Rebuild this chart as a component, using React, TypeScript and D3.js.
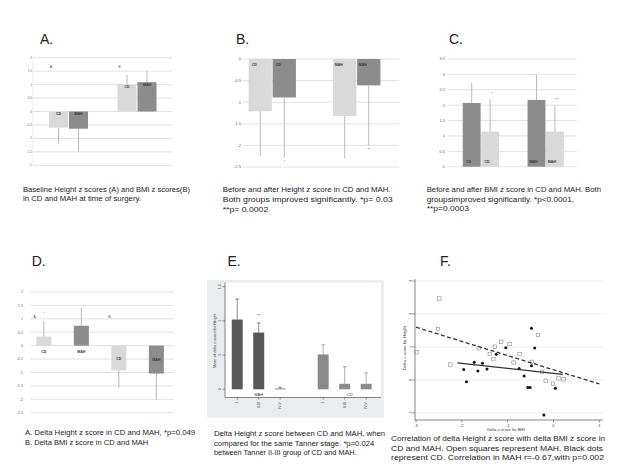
import React from "react";
import * as d3 from "d3";

// ---------- Panel A: baseline z scores ----------
const aGroups = ["Height", "BMI"];
const aSeries = ["CD", "MAH"];
const aMeansCD = [-0.6, 1.0];
const aMeansMAH = [-0.64, 1.09];
const aErrCD = [0.57, 0.36];
const aErrMAH = [0.85, 0.41];
const aTicks = [2, 1.5, 1, 0.5, 0, -0.5, -1, -1.5, -2];
const aGroupMarks = ["A", "B"];

// ---------- Panel B: height z before/after ----------
const bGroups = ["CD", "MAH"];
const bPhases = ["Before", "After"];
const bBefore = [-1.21, -1.32];
const bAfter = [-0.89, -0.61];
const bErrBefore = [1.03, 0.99];
const bErrAfter = [1.39, 1.39];
const bStarsAfter = ["*", "**"];
const bTicks = [0, -0.5, -1, -1.5, -2, -2.5];

// ---------- Panel C: BMI z before/after ----------
const cGroups = ["CD", "MAH"];
const cPhases = ["Before", "After"];
const cBefore = [2.07, 2.17];
const cAfter = [1.14, 1.14];
const cErrBefore = [0.66, 0.81];
const cErrAfter = [1.05, 0.86];
const cStarsAfter = ["*", "**"];
const cTicks = [3.5, 3, 2.5, 2, 1.5, 1, 0.5, 0];

// ---------- Panel D: delta z scores ----------
const dCats = ["Height-CD", "Height-MAH", "BMI-CD", "BMI-MAH"];
const dLabels = ["CD", "MAH", "CD", "MAH"];
const dMeans = [0.34, 0.74, -0.92, -1.04];
const dErr = [0.59, 0.67, 0.65, 0.99];
const dTicks = [2, 1.5, 1, 0.5, 0, -0.5, -1, -1.5, -2, -2.5];

// ---------- Panel E: delta height by Tanner stage ----------
const eStages = ["I", "II-III", "IV-V"];
const eMAH = [1.02, 0.83, 0.01];
const eMAHErr = [0.3, 0.14, 0.02];
const eCD = [0.51, 0.08, 0.08];
const eCDErr = [0.14, 0.25, 0.16];
const eStarsMAH = ["", "**", ""];
const eTicks = [0, 0.5, 1, 1.5];
const eTickLabels = ["0", ".5", "1", "1.5"];

// ---------- Panel F: scatter ----------
const fMahX = [-2.99, -2.49, -2.52, -2.25, -1.63, -1.39, -1.31, -1.28, -1.14, -0.96, -0.74, -0.87, -0.34, -0.47, -0.25, -0.17, -0.01, 0.11, 0.22];
const fMahY = [0.84, 2.47, 1.55, 0.47, 0.96, 0.79, 0.63, 1.01, 1.16, 1.09, 0.79, 0.53, 1.36, 0.55, 0.25, -0.02, -0.11, 0.05, 0.02];
const fCdX = [-1.96, -1.9, -1.73, -1.65, -1.55, -1.45, -1.25, -1.04, -0.75, -0.64, -0.56, -0.51, -0.48, -0.41, -0.48, 0.04, -0.21];
const fCdY = [0.32, -0.05, 0.54, 0.27, 0.51, 0.33, 0.78, 0.98, 0.35, 0.12, -0.23, -0.23, 1.57, 0.97, 0.43, -0.25, -1.06];
const fMahFitX = [-3, 1];
const fMahFitY = [1.6, -0.12];
const fCdFitX = [-2.1, 0.2];
const fCdFitY = [0.52, 0.17];
const fXTicks = [-3, -2, -1, 0, 1];
const fYTicks = [-1, 0, 1, 2, 3];

// ---------- Captions ----------
const capA = ["Baseline Height z scores (A) and BMI z scores(B)", "in CD and MAH at time of surgery."];
const capB = ["Before and after Height z score in CD and MAH.", "Both groups improved significantly. *p= 0.03", "**p= 0.0002"];
const capC = ["Before and after BMI z score in CD and MAH. Both", "groupsimproved significantly. *p<0.0001,", "**p=0.0003"];
const capD = ["A. Delta Height z score in CD and MAH, *p=0.049", "B. Delta BMI z score in CD and MAH"];
const capE = ["Delta Height z score between CD and MAH, when", "compared for the same Tanner stage. *p=0.024", "between Tanner II-III group of CD and MAH."];
const capF = ["Correlation of delta Height z score with delta BMI z score in", "CD and MAH.  Open squares represent MAH. Black dots", "represent CD. Correlation in MAH r=-0.67,with p=0.002"];

const LIGHT = "#d9d9d9";
const DARK = "#8c8c8c";
const GRID = "#d9d9d9";
const WHISK = "#a8a8a8";
const FONT = "'Liberation Sans', Arial, sans-serif";

function Caption({ lines, x, y, lh, widths }: { lines: string[]; x: number; y: number; lh: number; widths: number[] }) {
  return (
    <g fontFamily={FONT} fontSize={8.1} fill="#222">
      {lines.map((l, i) => (
        <text key={i} x={x} y={y + i * lh} textLength={widths[i]} lengthAdjust="spacingAndGlyphs">{l}</text>
      ))}
    </g>
  );
}

function Title({ t, x, y }: { t: string; x: number; y: number }) {
  return <text x={x} y={y} fontFamily={FONT} fontSize={14} fill="#222">{t}</text>;
}

function Grid({ ticks, y, x0, x1, lx, fs }: { ticks: number[]; y: any; x0: number; x1: number; lx: number; fs: number }) {
  return (
    <g>
      {ticks.map((t) => (
        <line key={"g" + t} x1={x0} x2={x1} y1={y(t)} y2={y(t)} stroke={GRID} strokeWidth={0.8} />
      ))}
      {ticks.map((t) => (
        <text key={"t" + t} x={lx} y={y(t)} dy="0.35em" textAnchor="end" fontFamily={FONT} fontSize={fs} fill="#666">{String(t)}</text>
      ))}
    </g>
  );
}

function Whisker({ x, y, v, e }: { x: number; y: any; v: number; e: number }) {
  const s = v >= 0 ? 1 : -1;
  return <line x1={x} x2={x} y1={y(v)} y2={y(v + s * e)} stroke={WHISK} strokeWidth={0.8} />;
}

function Bar({ x, w, y, v, fill }: { x: number; w: number; y: any; v: number; fill: string }) {
  const y0 = y(0), y1 = y(v);
  return <rect x={x} y={Math.min(y0, y1)} width={w} height={Math.abs(y1 - y0)} fill={fill} />;
}

function TinyLabel({ x, y, t }: { x: number; y: number; t: string }) {
  return <text x={x} y={y} dy="0.35em" textAnchor="middle" fontFamily={FONT} fontSize={3.6} fontWeight="bold" fill="#333">{t}</text>;
}

function PanelA() {
  const y = d3.scaleLinear().domain([-2, 2]).range([165.3, 57.7]);
  const x = d3.scaleBand<string>().domain(aGroups).range([34.25, 171.25]).paddingInner(0.43).paddingOuter(0.215);
  const xi = d3.scaleBand<string>().domain(aSeries).range([0, x.bandwidth()]).paddingInner(0.05);
  const cols = [LIGHT, DARK];
  return (
    <g>
      <Title t="A." x={40} y={43.5} />
      <Grid ticks={aTicks} y={y} x0={33} x1={172} lx={32} fs={3} />
      <line x1={33} x2={33} y1={57.7} y2={165.3} stroke="#e3e3e3" strokeWidth={0.6} />
      {aGroups.map((g, gi) => {
        const vals = [aMeansCD[gi], aMeansMAH[gi]];
        const errs = [aErrCD[gi], aErrMAH[gi]];
        return (
          <g key={g}>
            <text x={(x(g) as number) + 2} y={y(1.65)} dy="0.35em" textAnchor="middle" fontFamily={FONT} fontSize={3.6} fill="#555">{aGroupMarks[gi]}</text>
            {aSeries.map((s, si) => {
              const bx = (x(g) as number) + (xi(s) as number);
              const cx = bx + xi.bandwidth() / 2;
              return (
                <g key={s}>
                  <Bar x={bx} w={xi.bandwidth()} y={y} v={vals[si]} fill={cols[si]} />
                  <Whisker x={cx} y={y} v={vals[si]} e={errs[si]} />
                  <TinyLabel x={cx} y={y(Math.max(vals[si], 0)) + 2.6} t={s} />
                </g>
              );
            })}
          </g>
        );
      })}
      <Caption lines={capA} x={23} y={191.5} lh={9.7} widths={[167, 118]} />
    </g>
  );
}

function PanelB() {
  const y = d3.scaleLinear().domain([-2.5, 0]).range([167, 59]);
  const x = d3.scaleBand<string>().domain(bGroups).range([230, 399]).paddingInner(0.44).paddingOuter(0.22);
  const xi = d3.scaleBand<string>().domain(bPhases).range([0, x.bandwidth()]).paddingInner(0.03);
  const cols = [LIGHT, DARK];
  return (
    <g>
      <Title t="B." x={236} y={44} />
      <Grid ticks={bTicks} y={y} x0={242.7} x1={399.3} lx={241} fs={4.2} />
      {bGroups.map((g, gi) => {
        const vals = [bBefore[gi], bAfter[gi]];
        const errs = [bErrBefore[gi], bErrAfter[gi]];
        return (
          <g key={g}>
            {bPhases.map((p, pi) => {
              const bx = (x(g) as number) + (xi(p) as number);
              const cx = bx + xi.bandwidth() / 2;
              return (
                <g key={p}>
                  <Bar x={bx} w={xi.bandwidth()} y={y} v={vals[pi]} fill={cols[pi]} />
                  <Whisker x={cx} y={y} v={vals[pi]} e={errs[pi]} />
                  <TinyLabel x={cx - 6} y={y(0) + 6} t={g} />
                  {pi === 1 && (
                    <text x={cx} y={y(vals[pi] - errs[pi]) + 4} dy="0.35em" textAnchor="middle" fontFamily={FONT} fontSize={4} fill="#666">{bStarsAfter[gi]}</text>
                  )}
                </g>
              );
            })}
          </g>
        );
      })}
      <Caption lines={capB} x={222.7} y={192.3} lh={9.8} widths={[168, 170, 45.6]} />
    </g>
  );
}

function PanelC() {
  const y = d3.scaleLinear().domain([0, 3.5]).range([166.7, 59]);
  const x = d3.scaleBand<string>().domain(cGroups).range([448.5, 578.1]).paddingInner(0.44).paddingOuter(0.22);
  const xi = d3.scaleBand<string>().domain(cPhases).range([0, x.bandwidth()]).paddingInner(0.03);
  const cols = [DARK, LIGHT];
  return (
    <g>
      <Title t="C." x={449} y={44} />
      <Grid ticks={cTicks} y={y} x0={448} x1={576.7} lx={445} fs={4} />
      {cGroups.map((g, gi) => {
        const vals = [cBefore[gi], cAfter[gi]];
        const errs = [cErrBefore[gi], cErrAfter[gi]];
        return (
          <g key={g}>
            {cPhases.map((p, pi) => {
              const bx = (x(g) as number) + (xi(p) as number);
              const cx = bx + xi.bandwidth() / 2;
              return (
                <g key={p}>
                  <Bar x={bx} w={xi.bandwidth()} y={y} v={vals[pi]} fill={cols[pi]} />
                  <Whisker x={cx} y={y} v={vals[pi]} e={errs[pi]} />
                  <TinyLabel x={cx - 3} y={y(0) - 5.4} t={g} />
                  {pi === 1 && (
                    <text x={cx + 2} y={y(vals[pi] + errs[pi]) - 6} dy="0.35em" textAnchor="middle" fontFamily={FONT} fontSize={4} fill="#666">{cStarsAfter[gi]}</text>
                  )}
                </g>
              );
            })}
          </g>
        );
      })}
      <Caption lines={capC} x={426.7} y={191.7} lh={9.8} widths={[174.3, 147.3, 42.3]} />
    </g>
  );
}

function PanelD() {
  const y = d3.scaleLinear().domain([-2.5, 2]).range([412.7, 292]);
  const x = d3.scaleBand<string>().domain(dCats).range([25.1, 175.1]).paddingInner(0.6).paddingOuter(0.3);
  const cols = [LIGHT, DARK, LIGHT, DARK];
  return (
    <g>
      <Title t="D." x={31.7} y={266} />
      <Grid ticks={dTicks} y={y} x0={30.7} x1={174} lx={23} fs={3.8} />
      {dCats.map((c, i) => {
        const bx = x(c) as number;
        const cx = bx + x.bandwidth() / 2;
        const v = dMeans[i];
        const ly = v >= 0 ? y(0) + 6 : (y(0) + y(v)) / 2 + 0.5;
        return (
          <g key={c}>
            <Bar x={bx} w={x.bandwidth()} y={y} v={v} fill={cols[i]} />
            <Whisker x={cx} y={y} v={v} e={dErr[i]} />
            <TinyLabel x={cx} y={ly} t={dLabels[i]} />
          </g>
        );
      })}
      <text x={35} y={y(1.08)} dy="0.35em" textAnchor="middle" fontFamily={FONT} fontSize={3.8} fill="#555">A.</text>
      <text x={(x(dCats[0]) as number) + x.bandwidth() / 2} y={y(dMeans[0] + dErr[0]) - 7} dy="0.35em" textAnchor="middle" fontFamily={FONT} fontSize={4} fill="#777">*</text>
      <text x={110} y={y(1.08)} dy="0.35em" textAnchor="middle" fontFamily={FONT} fontSize={3.8} fill="#555">B.</text>
      <Caption lines={capD} x={25} y={435.3} lh={9.7} widths={[170, 123.3]} />
    </g>
  );
}

function PanelE() {
  const y = d3.scaleLinear().domain([0, 1.5]).range([389.3, 286.7]);
  const keys = [...eStages.map((s) => "MAH-" + s), "gap", ...eStages.map((s) => "CD-" + s)];
  const x = d3.scaleBand<string>().domain(keys).range([221, 382.4]).paddingInner(0.49).paddingOuter(0.5);
  const bw = x.bandwidth();
  const groups = [
    { name: "MAH", vals: eMAH, errs: eMAHErr, fill: "#575757", stars: eStarsMAH },
    { name: "CD", vals: eCD, errs: eCDErr, fill: "#8a8a8a", stars: ["", "", ""] },
  ];
  return (
    <g>
      <Title t="E." x={227.5} y={265.5} />
      <rect x={207.3} y={280} width={176.7} height={137.7} fill="#e9eded" />
      <rect x={225} y={282.5} width={156} height={115} fill="#ffffff" />
      <line x1={225} x2={225} y1={282.5} y2={397.5} stroke="#333" strokeWidth={0.6} />
      <line x1={225} x2={381} y1={397.5} y2={397.5} stroke="#333" strokeWidth={0.6} />
      {eTicks.map((t, i) => (
        <g key={t}>
          <line x1={222.5} x2={225} y1={y(t)} y2={y(t)} stroke="#333" strokeWidth={0.5} />
          <text transform={`translate(220.5,${y(t)}) rotate(-90)`} textAnchor="middle" fontFamily={FONT} fontSize={3.6} fill="#333">{eTickLabels[i]}</text>
        </g>
      ))}
      <text transform={`translate(215.5,341) rotate(-90)`} textAnchor="middle" fontFamily={FONT} fontSize={3.8} fill="#333">Mean of delta z-score for Height</text>
      {groups.map((g) => (
        <g key={g.name}>
          {eStages.map((s, i) => {
            const bx = x(g.name + "-" + s) as number;
            const cx = bx + bw / 2;
            const v = g.vals[i];
            const top = y(v + g.errs[i]);
            return (
              <g key={s}>
                <Bar x={bx} w={bw} y={y} v={v} fill={g.fill} />
                <line x1={cx} x2={cx} y1={y(v)} y2={top} stroke={g.fill} strokeWidth={0.7} />
                <line x1={cx - 2} x2={cx + 2} y1={top} y2={top} stroke={g.fill} strokeWidth={0.7} />
                <line x1={cx} x2={cx} y1={397.5} y2={399.5} stroke="#333" strokeWidth={0.5} />
                <text transform={`translate(${cx + 1.2},402) rotate(-90)`} textAnchor="end" fontFamily={FONT} fontSize={3.6} fill="#333">{s}</text>
                {g.stars[i] && (
                  <text x={cx} y={top - 7} dy="0.35em" textAnchor="middle" fontFamily={FONT} fontSize={4} fill="#333">{g.stars[i]}</text>
                )}
              </g>
            );
          })}
          <text x={(x(g.name + "-" + eStages[1]) as number) + bw / 2 + (g.name === "CD" ? 5 : 0)} y={396} textAnchor="middle" fontFamily={FONT} fontSize={4} fill="#333">{g.name}</text>
        </g>
      ))}
      <Caption lines={capE} x={214} y={435.7} lh={9.8} widths={[171, 160.3, 142.7]} />
    </g>
  );
}

function PanelF() {
  const x = d3.scaleLinear().domain([-3, 1]).range([416, 599.3]);
  const y = d3.scaleLinear().domain([-1, 3]).range([413, 281]);
  const line = d3.line<[number, number]>().x((d) => x(d[0])).y((d) => y(d[1]));
  const mahFit = fMahFitX.map((v, i) => [v, fMahFitY[i]] as [number, number]);
  const cdFit = fCdFitX.map((v, i) => [v, fCdFitY[i]] as [number, number]);
  return (
    <g>
      <Title t="F." x={440} y={266} />
      {fYTicks.map((t) => (
        <line key={"g" + t} x1={415} x2={603} y1={y(t)} y2={y(t)} stroke="#e6e6e6" strokeWidth={0.7} />
      ))}
      <line x1={415} x2={415} y1={279} y2={420} stroke="#333" strokeWidth={0.6} />
      <line x1={415} x2={603} y1={420} y2={420} stroke="#333" strokeWidth={0.6} />
      {fYTicks.map((t) => (
        <g key={t}>
          <line x1={412.5} x2={415} y1={y(t)} y2={y(t)} stroke="#333" strokeWidth={0.5} />
          <text transform={`translate(411.5,${y(t)}) rotate(-90)`} textAnchor="middle" fontFamily={FONT} fontSize={4} fill="#333">{String(t)}</text>
        </g>
      ))}
      {fXTicks.map((t) => (
        <g key={t}>
          <line x1={x(t)} x2={x(t)} y1={420} y2={422.5} stroke="#333" strokeWidth={0.5} />
          <text x={x(t)} y={426.5} textAnchor="middle" fontFamily={FONT} fontSize={4} fill="#333">{String(t)}</text>
        </g>
      ))}
      <text x={506} y={431.3} textAnchor="middle" fontFamily={FONT} fontSize={4} fill="#333">Delta z-score for BMI</text>
      <text transform="translate(406,348) rotate(-90)" textAnchor="middle" fontFamily={FONT} fontSize={4.2} fill="#333">Delta z-score for Height</text>
      {fMahX.map((v, i) => (
        <rect key={"m" + i} x={x(v) - 1.7} y={y(fMahY[i]) - 1.7} width={3.4} height={3.4} fill="none" stroke="#888" strokeWidth={0.6} />
      ))}
      {fCdX.map((v, i) => (
        <circle key={"c" + i} cx={x(v)} cy={y(fCdY[i])} r={1.5} fill="#111" />
      ))}
      <path d={line(mahFit) || ""} fill="none" stroke="#333" strokeWidth={1.3} strokeDasharray="4,2.5" />
      <path d={line(cdFit) || ""} fill="none" stroke="#333" strokeWidth={1.3} />
      <Caption lines={capF} x={391} y={440.6} lh={9.9} widths={[214, 212, 213]} />
    </g>
  );
}

export default function App() {
  return (
    <svg width={618} height={464} viewBox="0 0 618 464" style={{ position: "absolute", left: 0, top: 0, background: "#fff" }}>
      <rect width={618} height={464} fill="#fff" />
      <PanelA />
      <PanelB />
      <PanelC />
      <PanelD />
      <PanelE />
      <PanelF />
    </svg>
  );
}
